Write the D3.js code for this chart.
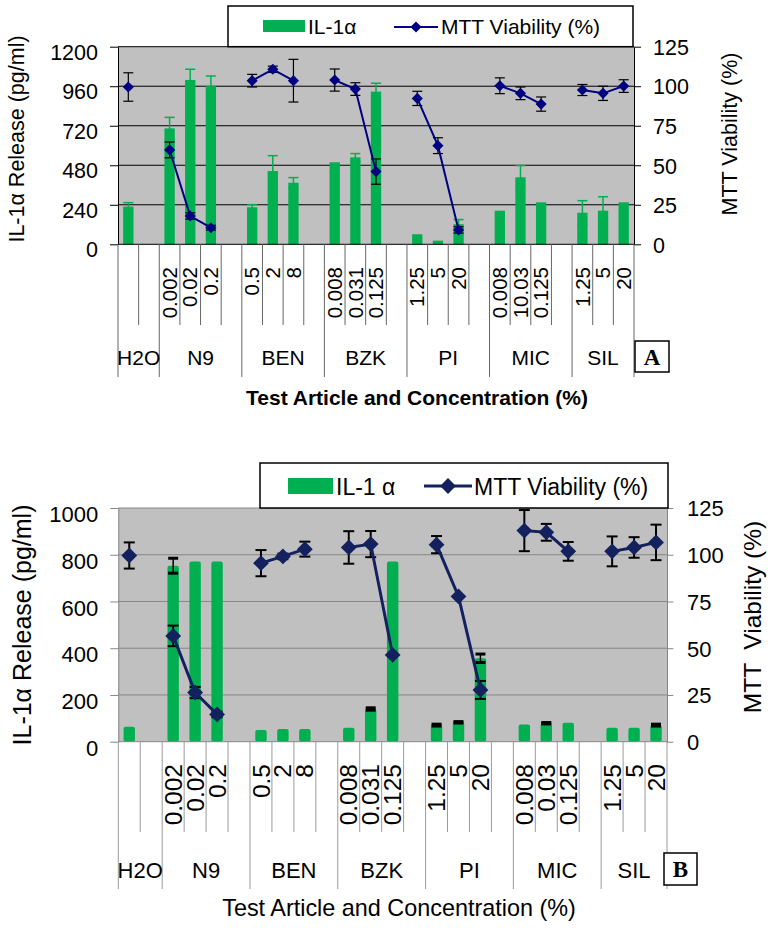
<!DOCTYPE html>
<html><head><meta charset="utf-8">
<script src="https://cdn.jsdelivr.net/npm/d3@7"></script>
<style>
body{margin:0;background:#fff}
svg{display:block}
text{font-family:"Liberation Sans",Arial,sans-serif;fill:#000}
</style>
</head><body>
<svg id="c" width="770" height="928"></svg>
<script>
// ---------- DATA ----------
const groups = ["H2O", "N9", "BEN", "BZK", "PI", "MIC", "SIL"];
const concLabelsA = [[""], ["0.002", "0.02", "0.2"], ["0.5", "2", "8"], ["0.008", "0.031", "0.125"], ["1.25", "5", "20"], ["0.008", "10.03", "0.125"], ["1.25", "5", "20"]];
const concLabelsB = [[""], ["0.002", "0.02", "0.2"], ["0.5", "2", "8"], ["0.008", "0.031", "0.125"], ["1.25", "5", "20"], ["0.008", "0.03", "0.125"], ["1.25", "5", "20"]];

// Panel A
const il1aA    = [229, 704, 998, 961, 225, 445, 374, 498, 528, 927, 61, 22, 122, 204, 407, 255, 192, 204, 255];
const il1aErrA = [24, 67, 65, 61, 16, 93, 31, 0, 23, 51, 0, 0, 28, 0, 71, 0, 73, 85, 0];
const mttA     = [99.5, 59.7, 17.9, 10.5, 103.5, 110.7, 103.5, 103.9, 98.2, 46, 92.3, 62.4, 9.1, 100.3, 95.5, 88.7, 97.6, 95.5, 100.1];
const mttErrA  = [9, 5, 2, 1.5, 4, 2, 13.5, 7, 4, 8, 4.5, 5, 2, 5, 4, 4.5, 3.5, 4.5, 4];

// Panel B
const il1aB    = [64, 753, 771, 771, 50, 54, 54, 60, 140, 771, 71, 83, 357, 74, 79, 81, 60, 60, 71];
const il1aErrB = [0, 32, 0, 0, 0, 0, 0, 0, 5, 0, 4, 3, 18, 0, 3, 0, 0, 0, 4];
const mttB     = [99.6, 56.6, 26.3, 14.6, 95.5, 99.1, 103, 103.9, 105.7, 46.4, 105.4, 77.7, 27.7, 112.9, 112, 101.8, 101.8, 103.9, 106.6];
const mttErrB  = [7, 5.5, 3, 1.5, 7, 1.5, 4, 8.7, 7, 0, 4.6, 0, 4.8, 11, 4.5, 5, 8, 5.5, 9.5];

const leftTicksA = [0, 240, 480, 720, 960, 1200];
const leftTicksB = [0, 200, 400, 600, 800, 1000];
const rightTicks = [0, 25, 50, 75, 100, 125];

// ---------- DRAW ----------
const svg = d3.select("#c");
const GREEN = "#00b050";

function panel(o) {
  const g = svg.append("g");
  const items = []; const starts = []; let s = 0;
  o.conc.forEach((cs, gi) => {
    starts.push(s);
    cs.forEach(c => { items.push({ g: gi, label: c, slot: s }); s++; });
    if (gi < o.conc.length - 1) s++;
  });
  const nSlots = s;
  starts.push(nSlots);
  items.forEach((it, i) => { it.v = o.il[i]; it.ve = o.ilErr[i]; it.m = o.mtt[i]; it.me = o.mttErr[i]; });

  const x = d3.scaleBand().domain(d3.range(nSlots)).range([o.left, o.right]);
  const bw = x.bandwidth();
  const bnd = i => i >= nSlots ? o.right : x(i);
  const cx = i => x(i) + bw / 2;
  const yL = d3.scaleLinear().domain([0, o.yMax]).range([o.bottom, o.top]);
  const yR = d3.scaleLinear().domain([0, 125]).range([o.bottom, o.top]);

  // plot background
  g.append("rect").attr("x", o.left).attr("y", o.top).attr("width", o.right - o.left).attr("height", o.bottom - o.top).attr("fill", "#c0c0c0");
  // gridlines
  g.selectAll(".grid").data(o.leftTicks.filter(t => t > 0)).join("line")
    .attr("x1", o.left).attr("x2", o.right).attr("y1", d => yL(d)).attr("y2", d => yL(d))
    .attr("stroke", o.gridColor).attr("stroke-width", 1);

  // bars
  const barW = bw * o.barFrac;
  g.selectAll(".bar").data(items).join("rect")
    .attr("x", d => cx(d.slot) - barW / 2).attr("width", barW)
    .attr("y", d => yL(d.v)).attr("height", d => yL(0) - yL(d.v))
    .attr("rx", o.barRx).attr("fill", GREEN);
  // bar error bars
  const be = items.filter(d => d.ve > 0);
  const capB = o.barCap;
  be.forEach(d => {
    const xx = cx(d.slot);
    const eg = g.append("g").attr("stroke", o.barErrColor).attr("stroke-width", o.barErrW);
    eg.append("line").attr("x1", xx).attr("x2", xx).attr("y1", yL(d.v - d.ve)).attr("y2", yL(d.v + d.ve)).attr("stroke-width", o.barErrLineW);
    eg.append("line").attr("x1", xx - capB / 2).attr("x2", xx + capB / 2).attr("y1", yL(d.v + d.ve)).attr("y2", yL(d.v + d.ve));
    eg.append("line").attr("x1", xx - capB / 2).attr("x2", xx + capB / 2).attr("y1", yL(d.v - d.ve)).attr("y2", yL(d.v - d.ve));
  });

  // viability error bars
  items.filter(d => d.me > 0).forEach(d => {
    const xx = cx(d.slot);
    const eg = g.append("g").attr("stroke", "#000").attr("stroke-width", o.mttErrW);
    eg.append("line").attr("x1", xx).attr("x2", xx).attr("y1", yR(d.m - d.me)).attr("y2", yR(d.m + d.me));
    eg.append("line").attr("x1", xx - o.mttCap / 2).attr("x2", xx + o.mttCap / 2).attr("y1", yR(d.m + d.me)).attr("y2", yR(d.m + d.me));
    eg.append("line").attr("x1", xx - o.mttCap / 2).attr("x2", xx + o.mttCap / 2).attr("y1", yR(d.m - d.me)).attr("y2", yR(d.m - d.me));
  });
  // viability lines per group
  const line = d3.line().x(d => cx(d.slot)).y(d => yR(d.m));
  d3.groups(items, d => d.g).forEach(([k, arr]) => {
    if (arr.length > 1) g.append("path").attr("d", line(arr)).attr("fill", "none").attr("stroke", o.lineColor).attr("stroke-width", o.lineW);
  });
  const sym = d3.symbol().type(d3.symbolSquare).size(o.symSize);
  g.selectAll(".pt").data(items).join("path")
    .attr("d", sym()).attr("transform", d => `translate(${cx(d.slot)},${yR(d.m)}) rotate(45)`)
    .attr("fill", o.lineColor);

  // left axis
  const ax = d3.axisLeft(yL).tickValues(o.leftTicks).tickSize(8).tickSizeOuter(0).tickPadding(o.leftPad).tickFormat(d3.format("d"));
  const ga = g.append("g").attr("transform", `translate(${o.left},0)`).call(ax);
  ga.select(".domain").attr("stroke", o.axisColor);
  ga.selectAll(".tick line").attr("stroke", o.axisColor);
  ga.selectAll(".tick text").attr("font-size", o.tickFs).attr("dy", o.leftDy).attr("font-family", "Liberation Sans, Arial, sans-serif").attr("fill", "#000");
  // right axis
  const ar = d3.axisRight(yR).tickValues(rightTicks).tickSize(o.rightTick).tickSizeOuter(0).tickPadding(o.rightPad);
  const gr = g.append("g").attr("transform", `translate(${o.right},0)`).call(ar);
  gr.select(".domain").attr("stroke", o.axisColor);
  gr.selectAll(".tick line").attr("stroke", o.axisColor);
  gr.selectAll(".tick text").attr("font-size", o.tickFs).attr("dy", "0.36em").attr("font-family", "Liberation Sans, Arial, sans-serif").attr("fill", "#000");
  // bottom axis line
  g.append("line").attr("x1", o.left).attr("x2", o.right).attr("y1", o.bottom).attr("y2", o.bottom).attr("stroke", o.axisColor);

  // category lines
  d3.range(nSlots + 1).forEach(i => {
    const long = starts.includes(i);
    g.append("line").attr("x1", bnd(i)).attr("x2", bnd(i)).attr("y1", o.bottom).attr("y2", long ? o.longEnd : o.shortEnd)
      .attr("stroke", o.catColor).attr("stroke-width", 1);
  });
  // concentration labels
  items.filter(d => d.label).forEach(d => {
    g.append("text").text(d.label)
      .attr("transform", `translate(${cx(d.slot)},${o.concEnd}) rotate(-90)`)
      .attr("text-anchor", "end").attr("dy", "0.35em").attr("font-size", o.concFs);
  });
  // group labels
  groups.forEach((name, gi) => {
    g.append("text").text(name).attr("x", (bnd(starts[gi]) + bnd(starts[gi + 1])) / 2).attr("y", o.groupBase)
      .attr("text-anchor", "middle").attr("font-size", o.groupFs);
  });
  // letter box
  g.append("rect").attr("x", o.box[0]).attr("y", o.box[1]).attr("width", o.box[2]).attr("height", o.box[3])
    .attr("fill", "#fff").attr("stroke", "#000").attr("stroke-width", 1.5);
  g.append("text").text(o.letter).attr("x", o.box[0] + o.box[2] / 2).attr("y", o.box[1] + o.box[3] / 2)
    .attr("dy", "0.35em").attr("text-anchor", "middle").attr("font-size", o.letterFs).attr("font-weight", "bold")
    .style("font-family", "'Liberation Serif','Times New Roman',serif");

  // axis titles
  g.append("text").text("IL-1\u03b1 Release (pg/ml)")
    .attr("transform", `translate(${o.lTitle[0]},${o.lTitle[1]}) rotate(-90)`)
    .attr("text-anchor", "middle").attr("dy", "0.35em").attr("font-size", o.lTitleFs);
  g.append("text").text(o.rTitleText).style("white-space", "pre")
    .attr("transform", `translate(${o.rTitle[0]},${o.rTitle[1]}) rotate(-90)`)
    .attr("text-anchor", "middle").attr("dy", "0.35em").attr("font-size", o.rTitleFs);
  g.append("text").text("Test Article and Concentration (%)")
    .attr("x", o.xTitle[0]).attr("y", o.xTitle[1]).attr("text-anchor", "middle")
    .attr("font-size", o.xTitleFs).attr("font-weight", o.xTitleBold ? "bold" : "normal");

  // legend
  const L = o.legend;
  g.append("rect").attr("x", L.box[0]).attr("y", L.box[1]).attr("width", L.box[2]).attr("height", L.box[3])
    .attr("fill", "#fff").attr("stroke", "#000").attr("stroke-width", 1.5);
  g.append("rect").attr("x", L.sw[0]).attr("y", L.sw[1]).attr("width", L.sw[2]).attr("height", L.sw[3]).attr("fill", GREEN);
  g.append("text").text(L.t1).style("white-space", "pre").attr("x", L.t1x).attr("y", L.base).attr("font-size", L.fs);
  g.append("line").attr("x1", L.ln[0]).attr("x2", L.ln[1]).attr("y1", L.ly).attr("y2", L.ly).attr("stroke", o.lineColor).attr("stroke-width", o.lineW);
  g.append("path").attr("d", sym()).attr("transform", `translate(${(L.ln[0] + L.ln[1]) / 2},${L.ly}) rotate(45)`).attr("fill", o.lineColor);
  g.append("text").text("MTT Viability (%)").attr("x", L.t2x).attr("y", L.base).attr("font-size", L.fs);
}

panel({
  conc: concLabelsA, il: il1aA, ilErr: il1aErrA, mtt: mttA, mttErr: mttErrA,
  left: 118, right: 634, top: 46.7, bottom: 244.3, yMax: 1200, leftTicks: leftTicksA,
  gridColor: "#000", axisColor: "#000", catColor: "#666",
  barFrac: 0.5, barRx: 0, barErrColor: GREEN, barErrW: 1.5, barErrLineW: 1.5, barCap: 10,
  mttErrW: 1.2, mttCap: 10, lineColor: "#000080", lineW: 2, symSize: 62,
  tickFs: 21.5, leftPad: 12, leftDy: "0.58em", rightTick: 7, rightPad: 12,
  shortEnd: 325, longEnd: 377, concEnd: 267, concFs: 20.5, groupBase: 365, groupFs: 21,
  box: [635, 341, 34, 31], letter: "A", letterFs: 23,
  lTitle: [16, 139], lTitleFs: 21.5, rTitle: [729, 134], rTitleFs: 21.5, rTitleText: "MTT Viability (%)",
  xTitle: [417, 405], xTitleFs: 21, xTitleBold: true,
  legend: { box: [228, 6, 405, 40.7], sw: [263, 20, 42, 12], t1: "IL-1\u03b1", t1x: 308, base: 34, fs: 21,
            ln: [394, 438], ly: 27, t2x: 441 }
});

panel({
  conc: concLabelsB, il: il1aB, ilErr: il1aErrB, mtt: mttB, mttErr: mttErrB,
  left: 118.3, right: 667, top: 508, bottom: 741.7, yMax: 1000, leftTicks: leftTicksB,
  gridColor: "#868686", axisColor: "#868686", catColor: "#9a9a9a",
  barFrac: 0.52, barRx: 2, barErrColor: "#000", barErrW: 3, barErrLineW: 1.5, barCap: 10,
  mttErrW: 2, mttCap: 11, lineColor: "#13225f", lineW: 3, symSize: 125,
  tickFs: 22, leftPad: 12, leftDy: "0.62em", rightTick: 6.3, rightPad: 13.7,
  shortEnd: 832, longEnd: 889, concEnd: 764, concFs: 24.5, groupBase: 878, groupFs: 22,
  box: [664, 853, 33, 32], letter: "B", letterFs: 23,
  lTitle: [22, 625], lTitleFs: 25, rTitle: [752, 617], rTitleFs: 24.5, rTitleText: "MTT  Viability (%)",
  xTitle: [399, 916], xTitleFs: 23.4, xTitleBold: false,
  legend: { box: [260, 463, 408, 45], sw: [288, 478, 45, 16], t1: "IL-1 \u03b1", t1x: 336, base: 495, fs: 23,
            ln: [424, 472], ly: 486, t2x: 474 }
});
</script>
</body></html>
